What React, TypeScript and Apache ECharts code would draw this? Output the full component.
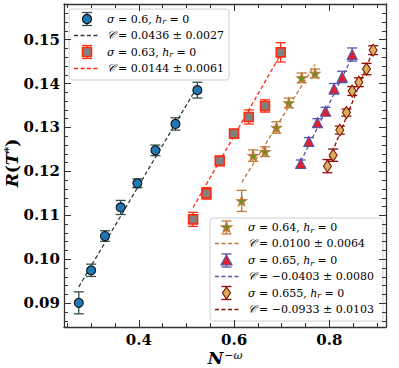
import React, { useEffect, useRef } from "react";
import * as echarts from "echarts";

// ---------- data ----------
const xMin = 0.243;
const xMax = 0.919;
const yMin = 0.0846;
const yMax = 0.1581;

const xTickMajor = [0.4, 0.6, 0.8];
const xTickMinor = [0.25, 0.3, 0.35, 0.45, 0.5, 0.55, 0.65, 0.7, 0.75, 0.85, 0.9];
const yTickMajor = [0.09, 0.1, 0.11, 0.12, 0.13, 0.14, 0.15];
const yTickMinor = [
  0.086, 0.088, 0.092, 0.094, 0.096, 0.098, 0.102, 0.104, 0.106, 0.108, 0.112, 0.114,
  0.116, 0.118, 0.122, 0.124, 0.126, 0.128, 0.132, 0.134, 0.136, 0.138, 0.142, 0.144,
  0.146, 0.148, 0.152, 0.154, 0.156,
];

const sigmas = ["0.6", "0.63", "0.64", "0.65", "0.655"];
const fitC = [0.0436, 0.0144, 0.01, -0.0403, -0.0933];
const fitCLabel = ["0.0436", "0.0144", "0.0100", "\u22120.0403", "\u22120.0933"];
const fitCErr = ["0.0027", "0.0061", "0.0064", "0.0080", "0.0103"];
const fitSlope = [0.183, 0.1895, 0.1745, 0.2197, 0.27];

const s060X = [0.274, 0.3, 0.329, 0.362, 0.397, 0.435, 0.477, 0.523];
const s060Y = [0.0901, 0.0975, 0.1053, 0.1118, 0.1173, 0.1248, 0.1308, 0.1385];
const s060E = [0.0025, 0.0014, 0.0012, 0.0016, 0.001, 0.0012, 0.0014, 0.0018];

const s063X = [0.514, 0.542, 0.57, 0.6, 0.631, 0.665, 0.698];
const s063Y = [0.1091, 0.115, 0.1224, 0.1286, 0.1324, 0.1349, 0.1471];
const s063E = [0.0016, 0.0013, 0.0011, 0.0009, 0.0016, 0.0014, 0.0022];

const s064X = [0.616, 0.64, 0.665, 0.689, 0.715, 0.742, 0.77];
const s064Y = [0.1133, 0.1236, 0.1245, 0.13, 0.1356, 0.1413, 0.1423];
const s064E = [0.0024, 0.0013, 0.0011, 0.0013, 0.0011, 0.0011, 0.001];

const s065X = [0.74, 0.757, 0.775, 0.792, 0.81, 0.827, 0.848];
const s065Y = [0.1218, 0.1268, 0.1311, 0.1337, 0.1388, 0.1415, 0.1466];
const s065E = [0.0008, 0.0009, 0.0009, 0.0009, 0.0012, 0.0013, 0.0015];

const s0655X = [0.796, 0.808, 0.822, 0.836, 0.848, 0.862, 0.878, 0.892];
const s0655Y = [0.1212, 0.1237, 0.1294, 0.1334, 0.1383, 0.1403, 0.1433, 0.1476];
const s0655E = [0.0015, 0.0014, 0.0009, 0.0008, 0.001, 0.001, 0.0013, 0.001];

// ---------- styles ----------
const STAR = "path://M0,-10 L2.35,-3.24 L9.51,-3.09 L3.8,1.24 L5.88,8.09 L0,4 L-5.88,8.09 L-3.8,1.24 L-9.51,-3.09 L-2.35,-3.24 Z";

const groups = [
  { X: s060X, Y: s060Y, E: s060E, symbol: "circle", size: 9, fill: "#1f77b4", edge: "#111111", err: "#2f4f4f", fit: "#2f3f3f", shape: "circle" },
  { X: s063X, Y: s063Y, E: s063E, symbol: "rect", size: 9, fill: "#808080", edge: "#ff2a10", err: "#ff2a10", fit: "#ff2a10", shape: "rect" },
  { X: s064X, Y: s064Y, E: s064E, symbol: STAR, size: 10, fill: "#6b8e23", edge: "#c07838", err: "#c07838", fit: "#c07838", shape: "star" },
  { X: s065X, Y: s065Y, E: s065E, symbol: "triangle", size: 10, fill: "#e0202a", edge: "#5656a8", err: "#5656a8", fit: "#5656a8", shape: "triangle" },
  { X: s0655X, Y: s0655Y, E: s0655E, symbol: "diamond", size: [8, 12], fill: "#d2b060", edge: "#8b0a00", err: "#8b0a00", fit: "#8b0a00", shape: "diamond" },
];

const AX = "#333333";
const FONT = "DejaVu Serif";

function starPoints(cx: number, cy: number, r: number) {
  const pts: number[][] = [];
  for (let k = 0; k < 10; k++) {
    const rr = k % 2 === 0 ? r : r * 0.4;
    const a = -Math.PI / 2 + (k * Math.PI) / 5;
    pts.push([cx + rr * Math.cos(a), cy + rr * Math.sin(a)]);
  }
  return pts;
}

function legendMarker(g: any, cx: number, cy: number): any[] {
  const els: any[] = [];
  const st = { stroke: g.err, lineWidth: 1.3 };
  els.push({ type: "line", shape: { x1: cx, y1: cy - 6.5, x2: cx, y2: cy + 6.5 }, style: st });
  els.push({ type: "line", shape: { x1: cx - 5, y1: cy - 6.5, x2: cx + 5, y2: cy - 6.5 }, style: st });
  els.push({ type: "line", shape: { x1: cx - 5, y1: cy + 6.5, x2: cx + 5, y2: cy + 6.5 }, style: st });
  const ms = { fill: g.fill, stroke: g.edge, lineWidth: 1.2 };
  if (g.shape === "circle") els.push({ type: "circle", shape: { cx, cy, r: 4.5 }, style: ms });
  if (g.shape === "rect") els.push({ type: "rect", shape: { x: cx - 4.5, y: cy - 4.5, width: 9, height: 9 }, style: { ...ms, lineWidth: 1.6 } });
  if (g.shape === "star") els.push({ type: "polygon", shape: { points: starPoints(cx, cy, 5.5) }, style: ms });
  if (g.shape === "triangle") els.push({ type: "polygon", shape: { points: [[cx, cy - 5.5], [cx + 5.5, cy + 4.5], [cx - 5.5, cy + 4.5]] }, style: ms });
  if (g.shape === "diamond") els.push({ type: "polygon", shape: { points: [[cx, cy - 6], [cx + 4, cy], [cx, cy + 6], [cx - 4, cy]] }, style: ms });
  return els;
}

const rich = {
  i: { fontFamily: FONT, fontStyle: "italic", fontSize: 11, fill: "#000" },
  s: { fontFamily: FONT, fontStyle: "italic", fontSize: 8, fill: "#000", padding: [5, 0, 0, 0] },
  c: { fontFamily: FONT, fontStyle: "italic", fontSize: 11, fill: "#000", padding: [0, 3, 0, 0] },
};

function legendText(x: number, y: number, text: string) {
  return {
    type: "text",
    x,
    y,
    style: { text, rich, fontFamily: FONT, fontSize: 11, fill: "#000", verticalAlign: "middle", align: "left" },
  };
}

function legendBlock(idxs: number[], box: { x: number; y: number; w: number; h: number }, rows: number[], mx: number, lx0: number, lx1: number, tx: number) {
  const els: any[] = [
    { type: "rect", shape: { x: box.x, y: box.y, width: box.w, height: box.h, r: 3 }, style: { fill: "rgba(255,255,255,0.85)", stroke: "#d0d0d0", lineWidth: 1 } },
  ];
  idxs.forEach((gi, k) => {
    const g = groups[gi];
    const y1 = rows[2 * k];
    const y2 = rows[2 * k + 1];
    els.push(...legendMarker(g, mx, y1));
    els.push(legendText(tx, y1, `{i|\u03c3} = ${sigmas[gi]}, {i|h}{s|r} = 0`));
    els.push({ type: "line", shape: { x1: lx0, y1: y2, x2: lx1, y2: y2 }, style: { stroke: g.fit, lineWidth: 1.3, lineDash: [4, 2.5] } });
    els.push(legendText(tx, y2, `{c|\ud835\udc9e}= ${fitCLabel[gi]} \u00b1 ${fitCErr[gi]}`));
  });
  return els;
}

export default function App() {
  const ref = useRef<HTMLDivElement>(null);
  useEffect(() => {
    document.body.style.margin = "0";
    if (!ref.current) return;
    const chart = echarts.init(ref.current, undefined, { renderer: "svg" });

    const series: any[] = [];
    groups.forEach((g, gi) => {
      const x0 = Math.min(...g.X);
      const x1 = Math.max(...g.X);
      series.push({
        type: "line",
        data: [
          [x0, fitC[gi] + fitSlope[gi] * x0],
          [x1, fitC[gi] + fitSlope[gi] * x1],
        ],
        symbol: "none",
        lineStyle: { color: g.fit, width: 1.3, type: [4, 2.5] },
        z: 2,
        silent: true,
      });
      series.push({
        type: "custom",
        data: g.X.map((x, i) => [x, g.Y[i], g.E[i]]),
        encode: { x: 0, y: 1 },
        z: 3,
        renderItem: (params: any, api: any) => {
          const x = api.value(0);
          const y = api.value(1);
          const e = api.value(2);
          const lo = api.coord([x, y - e]);
          const hi = api.coord([x, y + e]);
          const hw = 5;
          const st = { stroke: g.err, lineWidth: 1.3, fill: null };
          return {
            type: "group",
            children: [
              { type: "line", shape: { x1: lo[0], y1: lo[1], x2: hi[0], y2: hi[1] }, style: st },
              { type: "line", shape: { x1: lo[0] - hw, y1: lo[1], x2: lo[0] + hw, y2: lo[1] }, style: st },
              { type: "line", shape: { x1: hi[0] - hw, y1: hi[1], x2: hi[0] + hw, y2: hi[1] }, style: st },
            ],
          };
        },
      });
      series.push({
        type: "scatter",
        data: g.X.map((x, i) => [x, g.Y[i]]),
        symbol: g.symbol,
        symbolSize: g.size,
        itemStyle: { color: g.fill, borderColor: g.edge, borderWidth: g.shape === "rect" ? 1.6 : 1.1, opacity: 1 },
        z: 4,
      });
    });

    const axisLine = { show: true, lineStyle: { color: AX, width: 1.3 } };
    const labelStyle = { fontFamily: FONT, fontWeight: "bold", fontSize: 15, color: "#000" };

    const mkX = (pos: string, major: boolean, labels: boolean) => ({
      type: "value",
      min: xMin,
      max: xMax,
      position: pos,
      axisLine: major ? axisLine : { show: false },
      splitLine: { show: false },
      axisTick: { show: true, inside: true, length: major ? 7 : 4, customValues: major ? xTickMajor : xTickMinor, lineStyle: { color: AX, width: 1 } },
      axisLabel: labels
        ? { show: true, customValues: xTickMajor, margin: 5, formatter: (v: number) => v.toFixed(1), ...labelStyle }
        : { show: false },
    });
    const mkY = (pos: string, major: boolean, labels: boolean) => ({
      type: "value",
      min: yMin,
      max: yMax,
      position: pos,
      axisLine: major ? axisLine : { show: false },
      splitLine: { show: false },
      axisTick: { show: true, inside: true, length: major ? 7 : 4, customValues: major ? yTickMajor : yTickMinor, lineStyle: { color: AX, width: 1 } },
      axisLabel: labels
        ? { show: true, customValues: yTickMajor, margin: 4, formatter: (v: number) => v.toFixed(2), ...labelStyle }
        : { show: false },
    });

    const graphic: any[] = [
      ...legendBlock([0, 1], { x: 69, y: 9, w: 160, h: 71 }, [19, 35.5, 52, 68.5], 87, 74, 99, 107),
      ...legendBlock([2, 3, 4], { x: 210, y: 218, w: 173, h: 103 }, [227.5, 243.5, 260.5, 276.5, 293, 309.5], 226.5, 215, 240, 248),
      {
        type: "text",
        x: 225,
        y: 358,
        style: {
          text: "{b|N}{p|\u2212\u03c9}",
          align: "center",
          verticalAlign: "middle",
          rich: {
            b: { fontFamily: FONT, fontWeight: "bold", fontStyle: "italic", fontSize: 17, fill: "#000" },
            p: { fontFamily: FONT, fontStyle: "italic", fontSize: 11, fill: "#000", padding: [0, 0, 6, 1] },
          },
        },
      },
      {
        type: "text",
        x: 12,
        y: 163,
        rotation: Math.PI / 2,
        style: {
          text: "{b|R}{q|(}{b|T}{p|*}{q|)}",
          align: "center",
          verticalAlign: "middle",
          rich: {
            b: { fontFamily: FONT, fontWeight: "bold", fontStyle: "italic", fontSize: 17, fill: "#000" },
            q: { fontFamily: FONT, fontWeight: "bold", fontSize: 17, fill: "#000" },
            p: { fontFamily: FONT, fontWeight: "bold", fontSize: 11, fill: "#000", padding: [0, 0, 8, 0] },
          },
        },
      },
    ];

    chart.setOption({
      animation: false,
      textStyle: { fontFamily: FONT },
      grid: { left: 64, top: 4, right: 13, bottom: 41, containLabel: false },
      xAxis: [mkX("bottom", true, true), mkX("bottom", false, false), mkX("top", true, false), mkX("top", false, false)],
      yAxis: [mkY("left", true, true), mkY("left", false, false), mkY("right", true, false), mkY("right", false, false)],
      series,
      graphic,
    });
    return () => chart.dispose();
  }, []);
  return <div ref={ref} style={{ width: 399, height: 368 }} />;
}
